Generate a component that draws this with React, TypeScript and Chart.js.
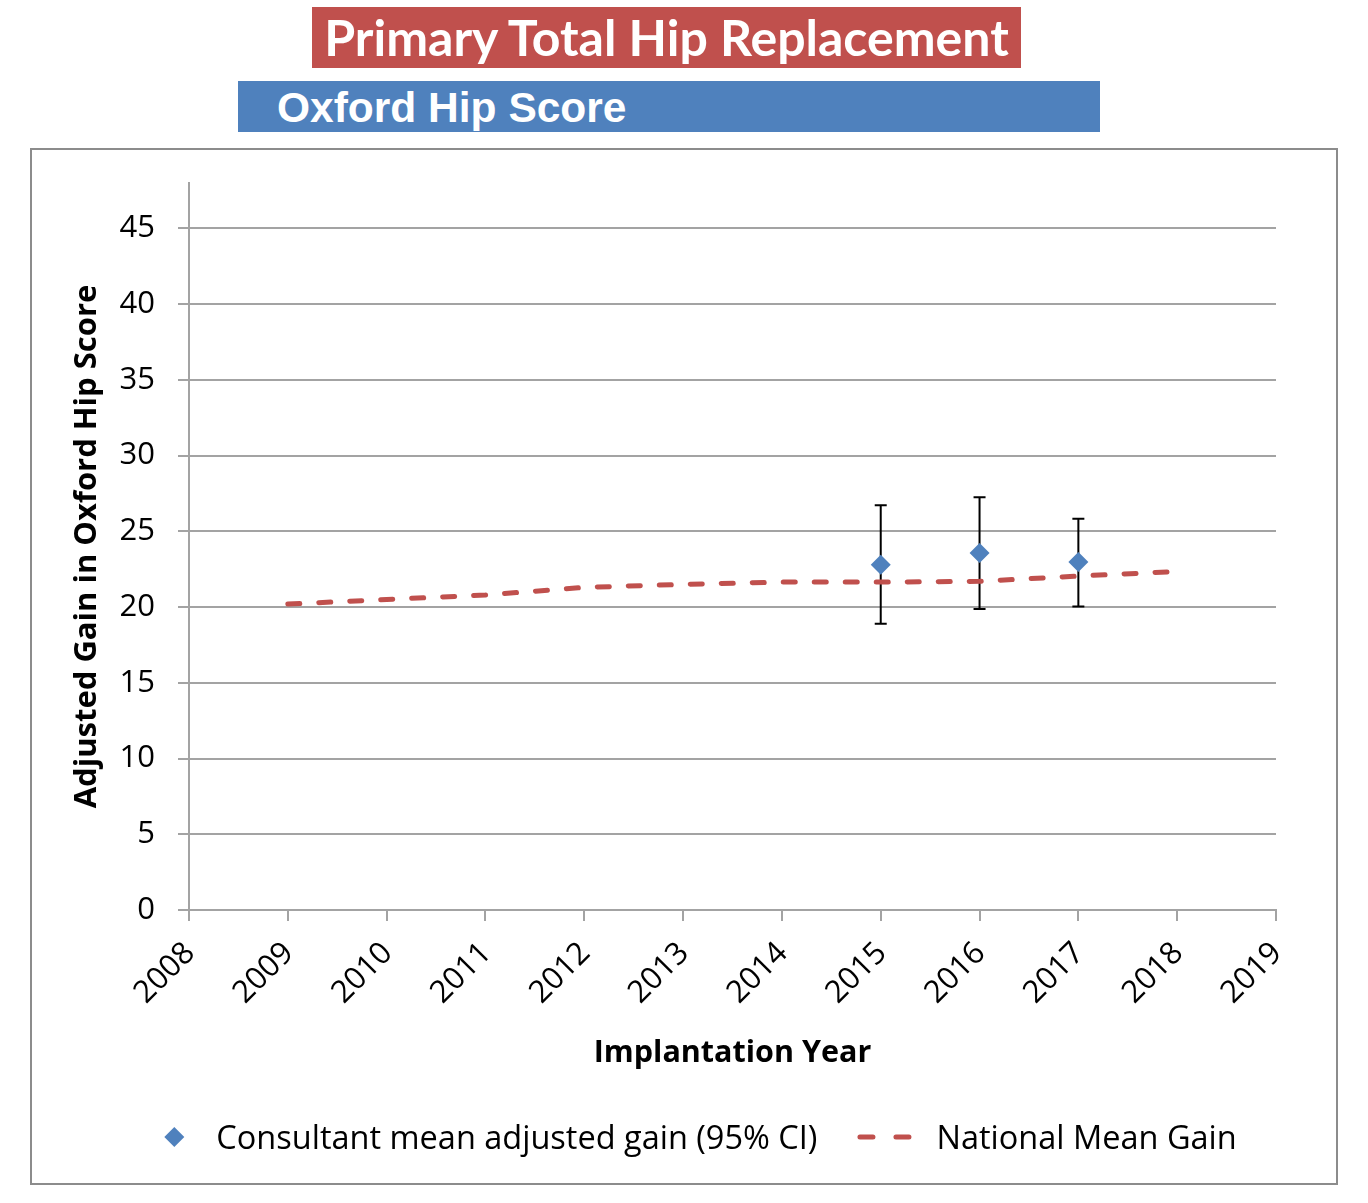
import React, { useEffect, useRef } from "react";
import { Chart, registerables } from "chart.js";

Chart.register(...registerables);

// ---- data ----
const consultantYears = [2015, 2016, 2017];
const consultantMean = [22.8, 23.57, 22.98];
const ciLower = [18.9, 19.87, 20.04];
const ciUpper = [26.72, 27.25, 25.84];

const nationalYears = [2009, 2010, 2011, 2012, 2013, 2014, 2015, 2016, 2017, 2018];
const nationalMean = [20.2, 20.5, 20.8, 21.3, 21.5, 21.65, 21.65, 21.7, 22.05, 22.35];

const xTickYears = [2008, 2009, 2010, 2011, 2012, 2013, 2014, 2015, 2016, 2017, 2018, 2019];
const yTickValues = [0, 5, 10, 15, 20, 25, 30, 35, 40, 45];

const titleText = "Primary Total Hip Replacement";
const subtitleText = "Oxford Hip Score";
const yAxisTitle = "Adjusted Gain in Oxford Hip Score";
const xAxisTitle = "Implantation Year";
const legendLabels = ["Consultant mean adjusted gain (95% CI)", "National Mean Gain"];

const BLUE = "#4F81BD";
const RED = "#C0504D";
const GRID = "#a3a3a3";
const FONT = "'Open Sans', Lato, sans-serif";
const TITLE_FONT = "Lato, 'Open Sans', sans-serif";

const errorBarPlugin = {
  id: "errorBars",
  beforeDatasetsDraw(chart: any) {
    const { ctx } = chart;
    const x = chart.scales.x;
    const y = chart.scales.y;
    ctx.save();
    ctx.strokeStyle = "#000";
    ctx.lineWidth = 2;
    consultantYears.forEach((yr, i) => {
      const px = x.getPixelForValue(yr);
      const top = y.getPixelForValue(ciUpper[i]);
      const bot = y.getPixelForValue(ciLower[i]);
      ctx.beginPath();
      ctx.moveTo(px, top);
      ctx.lineTo(px, bot);
      ctx.moveTo(px - 6, top);
      ctx.lineTo(px + 6, top);
      ctx.moveTo(px - 6, bot);
      ctx.lineTo(px + 6, bot);
      ctx.stroke();
    });
    ctx.restore();
  },
};

const legendPlugin = {
  id: "customLegend",
  afterDraw(chart: any) {
    const { ctx } = chart;
    const cy = 1137;
    ctx.save();
    ctx.font = `32.5px ${FONT}`;
    ctx.textBaseline = "middle";
    ctx.fillStyle = "#000";
    const w1 = ctx.measureText(legendLabels[0]).width;
    const w2 = ctx.measureText(legendLabels[1]).width;
    const total = 52 + w1 + 40 + 79 + w2;
    const x0 = 700.5 - total / 2;
    // diamond marker
    ctx.beginPath();
    ctx.moveTo(x0, cy);
    ctx.lineTo(x0 + 10, cy - 10);
    ctx.lineTo(x0 + 20, cy);
    ctx.lineTo(x0 + 10, cy + 10);
    ctx.closePath();
    ctx.fillStyle = BLUE;
    ctx.fill();
    ctx.fillStyle = "#000";
    ctx.fillText(legendLabels[0], x0 + 52, cy + 3);
    // dashed line marker
    const x1 = x0 + 52 + w1 + 40;
    ctx.beginPath();
    ctx.strokeStyle = RED;
    ctx.lineWidth = 5;
    ctx.lineCap = "round";
    ctx.setLineDash([13, 23]);
    ctx.moveTo(x1 + 2.5, cy);
    ctx.lineTo(x1 + 58, cy);
    ctx.stroke();
    ctx.setLineDash([]);
    ctx.fillText(legendLabels[1], x1 + 79, cy + 3);
    ctx.restore();
  },
};

export default function App() {
  const canvasRef = useRef<HTMLCanvasElement | null>(null);

  useEffect(() => {
    if (!canvasRef.current) return;
    const chart = new Chart(canvasRef.current, {
      type: "scatter",
      data: {
        datasets: [
          {
            label: legendLabels[0],
            data: consultantYears.map((yr, i) => ({ x: yr, y: consultantMean[i] })),
            pointStyle: "rectRot",
            pointRadius: 10,
            pointHoverRadius: 10,
            backgroundColor: BLUE,
            borderColor: BLUE,
            borderWidth: 0,
            showLine: false,
          },
          {
            label: legendLabels[1],
            data: nationalYears.map((yr, i) => ({ x: yr, y: nationalMean[i] })),
            showLine: true,
            borderColor: RED,
            borderWidth: 5,
            borderDash: [12, 19],
            borderCapStyle: "round",
            pointRadius: 0,
            pointHoverRadius: 0,
            fill: false,
            tension: 0,
          },
        ],
      },
      options: {
        animation: false,
        responsive: false,
        devicePixelRatio: 1,
        events: [],
        layout: { padding: { top: 183, left: 60, right: 92, bottom: 131 } },
        plugins: {
          legend: { display: false },
          tooltip: { enabled: false },
          title: { display: false },
        },
        scales: {
          x: {
            type: "linear",
            min: 2008,
            max: 2019,
            afterBuildTicks: (scale: any) => {
              scale.ticks = xTickYears.map((v) => ({ value: v }));
            },
            afterFit: (scale: any) => {
              scale.height = 162;
            },
            grid: {
              display: true,
              drawOnChartArea: false,
              drawTicks: true,
              tickLength: 11,
              color: GRID,
              lineWidth: 2,
            },
            border: { display: true, color: GRID, width: 2 },
            ticks: {
              autoSkip: false,
              minRotation: 45,
              maxRotation: 45,
              padding: 14,
              labelOffset: 1,
              color: "#000",
              font: { family: FONT, size: 31 },
              callback: (v: any) => String(v),
            },
            title: {
              display: true,
              text: xAxisTitle,
              color: "#000",
              font: { family: FONT, size: 30.5, weight: "bold" },
              padding: { top: 0, bottom: 0 },
            },
          },
          y: {
            type: "linear",
            min: 0,
            max: 48,
            afterBuildTicks: (scale: any) => {
              scale.ticks = yTickValues.map((v) => ({ value: v }));
            },
            afterFit: (scale: any) => {
              scale.width = 129;
            },
            grid: {
              display: true,
              drawOnChartArea: true,
              drawTicks: true,
              tickLength: 11,
              color: GRID,
              lineWidth: 2,
            },
            border: { display: true, color: GRID, width: 2 },
            ticks: {
              includeBounds: false,
              padding: 23,
              color: "#000",
              font: { family: FONT, size: 31 },
              callback: (v: any) => String(v),
            },
            title: {
              display: true,
              text: yAxisTitle,
              color: "#000",
              font: { family: FONT, size: 31, weight: "bold" },
              padding: { top: 9, bottom: 0 },
            },
          },
        },
      },
      plugins: [errorBarPlugin, legendPlugin],
    } as any);
    return () => chart.destroy();
  }, []);

  return (
    <div style={{ position: "absolute", left: 0, top: 0, width: 1368, height: 1203, background: "#fff" }}>
      <div
        style={{
          position: "absolute",
          left: 312,
          top: 7,
          width: 709,
          height: 61,
          background: RED,
          color: "#fff",
          fontFamily: TITLE_FONT,
          fontWeight: 700,
          fontSize: 50,
          lineHeight: "61px",
          textAlign: "center",
          whiteSpace: "nowrap",
        }}
      >
        <span style={{ display: "inline-block" }}>{titleText}</span>
      </div>
      <div
        style={{
          position: "absolute",
          left: 238,
          top: 81,
          width: 862,
          height: 51,
          background: BLUE,
          color: "#fff",
          fontFamily: "'Liberation Sans', Arial, sans-serif",
          fontWeight: 700,
          fontSize: 42.5,
          lineHeight: "51px",
          whiteSpace: "nowrap",
        }}
      >
        <span style={{ position: "absolute", left: 39, top: 1 }}>{subtitleText}</span>
      </div>
      <div
        style={{
          position: "absolute",
          left: 30,
          top: 148,
          width: 1308,
          height: 1037,
          border: "2px solid #8c8c8c",
          boxSizing: "border-box",
        }}
      />
      <canvas
        ref={canvasRef}
        width={1368}
        height={1203}
        style={{ position: "absolute", left: 0, top: 0, width: 1368, height: 1203 }}
      />
    </div>
  );
}
